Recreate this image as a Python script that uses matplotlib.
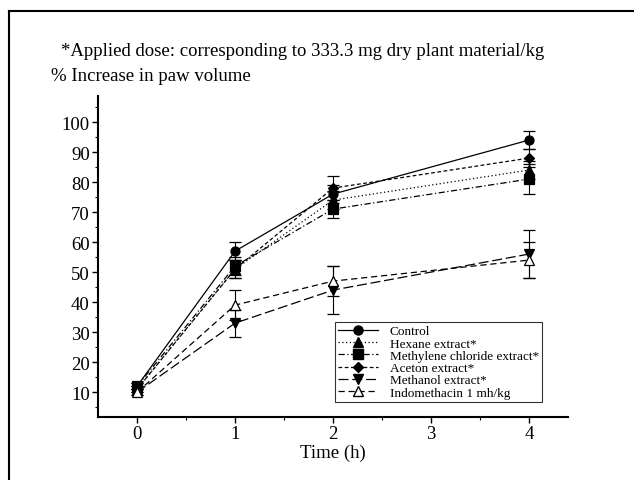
import matplotlib.pyplot as plt
from matplotlib.lines import Line2D

plt.rcParams["font.family"] = ["Liberation Serif", "DejaVu Serif"]

# % increase in paw volume, mean values and error bars
time_h = [0, 1, 2, 4]
control = [12, 57, 76, 94]
hexane = [11, 51, 74, 84]
methylene = [12, 52, 71, 81]
aceton = [11, 51, 78, 88]
methanol = [10, 33, 44, 56]
indometh = [10, 39, 47, 54]

control_err = [1, 3, 3, 3]
hexane_err = [1, 3, 3, 3]
methylene_err = [1, 3, 3, 5]
aceton_err = [1, 3, 4, 3]
methanol_err = [1, 4.5, 8, 8]
indometh_err = [1, 5, 5, 6]

labels = ["Control", "Hexane extract*", "Methylene chloride extract*",
          "Aceton extract*", "Methanol extract*", "Indomethacin 1 mh/kg"]

series = [
    (control, control_err, "-", "o", "black"),
    (hexane, hexane_err, (0, (1, 2)), "^", "black"),
    (methylene, methylene_err, (0, (5, 2, 1, 2)), "s", "black"),
    (aceton, aceton_err, (0, (3, 2)), "D", "black"),
    (methanol, methanol_err, (0, (8, 3)), "v", "black"),
    (indometh, indometh_err, (0, (5, 3)), "^", "white"),
]

fig = plt.figure(figsize=(6.34, 4.81), dpi=100)
ax = fig.add_axes([98 / 634, 1 - 418 / 481, 470 / 634, 321 / 481])

handles = []
for (vals, err, ls, mk, fc), lab in zip(series, labels):
    ms = 5.5 if mk == "D" else 6.5
    ax.errorbar(time_h, vals, yerr=err, color="black", linestyle=ls,
                linewidth=0.9, marker=mk, markersize=ms,
                markerfacecolor=fc, markeredgecolor="black", markeredgewidth=0.9,
                ecolor="black", elinewidth=0.8, capsize=4, capthick=0.8)
    handles.append(Line2D([], [], color="black", linestyle=ls, linewidth=0.9,
                          marker=mk, markersize=ms, markerfacecolor=fc,
                          markeredgecolor="black", label=lab))

ax.set_xlim(-0.4, 4.4)
ax.set_ylim(1.7, 108.7)
ax.set_xticks([0, 1, 2, 3, 4])
ax.set_xticks([0.5, 1.5, 2.5, 3.5], minor=True)
ax.set_yticks(range(10, 101, 10))
ax.set_yticks(range(5, 106, 10), minor=True)
ax.spines["top"].set_visible(False)
ax.spines["right"].set_visible(False)
ax.spines["left"].set_linewidth(1.5)
ax.spines["bottom"].set_linewidth(1.5)
ax.tick_params(axis="both", which="major", direction="out", length=4,
               width=1, labelsize=13.5, pad=2)
ax.tick_params(axis="both", which="minor", direction="out", length=2, width=0.8)
ax.set_xlabel("Time (h)", fontsize=13.5, labelpad=1)

leg = ax.legend(handles=handles, loc="lower right",
                bbox_to_anchor=(0.945, 0.047), fontsize=9.5,
                frameon=True, fancybox=False, edgecolor="black",
                handlelength=3.0, labelspacing=0.0, borderpad=0.25,
                handletextpad=0.9, borderaxespad=0)
leg.get_frame().set_linewidth(0.8)

fig.text(61 / 634, 1 - 51 / 481,
         "*Applied dose: corresponding to 333.3 mg dry plant material/kg",
         fontsize=13.5, va="center", ha="left")
fig.text(51 / 634, 1 - 77 / 481, "% Increase in paw volume",
         fontsize=13.5, va="center", ha="left")

# outer frame (cropped box)
fig.add_artist(Line2D([9 / 634, 9 / 634], [0, 1 - 12 / 481],
                      transform=fig.transFigure, color="black", linewidth=1.5))
fig.add_artist(Line2D([9 / 634, 1], [1 - 12 / 481, 1 - 12 / 481],
                      transform=fig.transFigure, color="black", linewidth=1.5))

fig.savefig("out.png", dpi=100)
